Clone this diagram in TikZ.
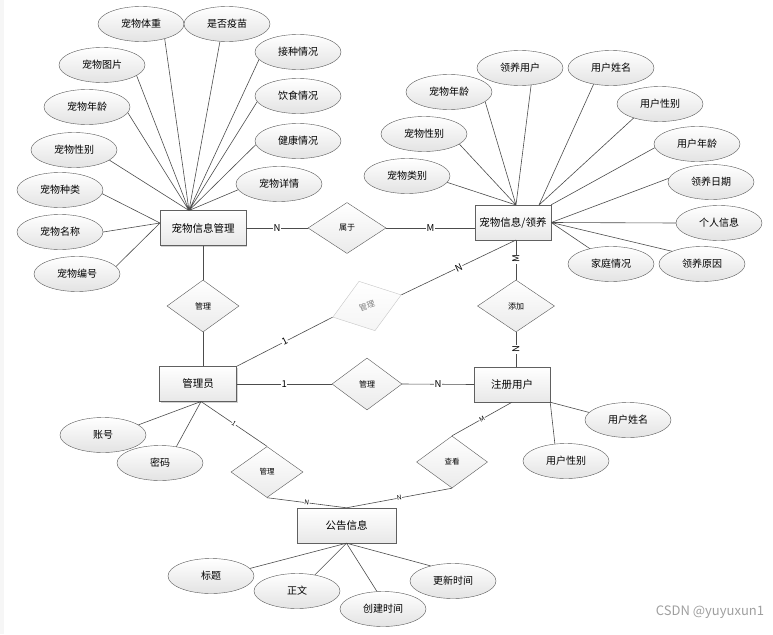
\documentclass[tikz,border=0pt]{standalone}
\usepackage{fontspec}
\setmainfont{Noto Sans CJK SC}
\usetikzlibrary{shapes.geometric,shadows}
\tikzstyle{entity} = [draw=gray!75!black, rectangle, minimum height = 35pt,
    minimum width = 76pt, inner sep = 0pt, top color = white, bottom color = gray!18,
    drop shadow = {shadow xshift = 1.2pt, shadow yshift = -1.2pt, fill = gray!70},
    font = \fontsize{10.5}{12}\selectfont]
\tikzstyle{attr} = [draw=gray!70!black, ellipse, minimum width = 86pt,
    minimum height = 35pt, inner sep = 0pt, top color = white, bottom color = gray!22,
    font = \fontsize{10}{12}\selectfont]
\tikzstyle{rel} = [draw=gray!70!black, diamond, minimum width = 72pt,
    minimum height = 52pt, inner sep = 0pt, top color = white, bottom color = gray!16,
    font = \fontsize{8}{9}\selectfont]
\tikzstyle{card} = [fill = white, inner sep = 0.6pt, font = \fontsize{9.5}{10}\selectfont]
\tikzstyle{tinycard} = [fill = white, inner sep = 0.4pt, font = \fontsize{6.5}{7}\selectfont]
\tikzstyle{conn} = [draw = gray!60!black, line width = 0.6pt]

\begin{document}
\begin{tikzpicture}[x=1pt, y=-1pt]
          \useasboundingbox (0,0) rectangle (773,634);
          \fill [gray!7] (0,0) rectangle (4,634);

          % Place the entities
          \node [entity, minimum width = 86pt] (pm) at (203,228) {宠物信息管理};
          \node [entity] (adopt) at (513,222.5) {宠物信息/领养};
          \node [entity, minimum width = 77pt] (admin) at (198,384) {管理员};
          \node [entity] (user) at (512,384.5) {注册用户};
          \node [entity, minimum width = 99pt] (notice) at (346.5,525.5) {公告信息};

          % Place the relations
          \node [rel, minimum width = 78pt, minimum height = 51pt] (belong) at (347,228) {属于};
          \node [rel] (mng1) at (203,306) {管理};
          \node [rel, rotate = 18, draw = gray!45, text = gray, bottom color = gray!8] (mng2) at (367,306) {管理};
          \node [rel, minimum width = 77pt] (add) at (516,306) {添加};
          \node [rel, minimum width = 70pt] (mng3) at (367,384) {管理};
          \node [rel, minimum height = 51pt, font = \fontsize{7.5}{9}\selectfont] (mng4) at (267,472) {管理};
          \node [rel, minimum width = 71pt, font = \fontsize{7.5}{9}\selectfont] (view) at (452,462) {查看};

          % Attributes of 宠物信息管理
          \node [attr] (a1) at (141,24) {宠物体重};
          \node [attr] (a2) at (227,24) {是否疫苗};
          \node [attr] (a3) at (298,52) {接种情况};
          \node [attr] (a4) at (102,65) {宠物图片};
          \node [attr] (a5) at (298,96) {饮食情况};
          \node [attr] (a6) at (87,107) {宠物年龄};
          \node [attr] (a7) at (298,141) {健康情况};
          \node [attr] (a8) at (74,150) {宠物性别};
          \node [attr] (a9) at (279,184) {宠物详情};
          \node [attr] (a10) at (60,190) {宠物种类};
          \node [attr] (a11) at (60,232) {宠物名称};
          \node [attr] (a12) at (77,274) {宠物编号};

          % Attributes of 宠物信息/领养
          \node [attr] (b1) at (520,68) {领养用户};
          \node [attr] (b2) at (449,92) {宠物年龄};
          \node [attr] (b3) at (424,134) {宠物性别};
          \node [attr] (b4) at (407,176) {宠物类别};
          \node [attr] (b5) at (611,68) {用户姓名};
          \node [attr] (b6) at (660,104) {用户性别};
          \node [attr] (b7) at (697,144) {用户年龄};
          \node [attr] (b8) at (711,182) {领养日期};
          \node [attr] (b9) at (719,223) {个人信息};
          \node [attr] (b10) at (611,264) {家庭情况};
          \node [attr] (b11) at (702,264) {领养原因};

          % Attributes of 注册用户, 管理员, 公告信息
          \node [attr] (c1) at (628,420) {用户姓名};
          \node [attr] (c2) at (566,461) {用户性别};
          \node [attr] (d1) at (103,435) {账号};
          \node [attr] (d2) at (160,463) {密码};
          \node [attr] (e1) at (211,576) {标题};
          \node [attr] (e2) at (297,591) {正文};
          \node [attr] (e3) at (383,609) {创建时间};
          \node [attr] (e4) at (453,581) {更新时间};

          \node [text = gray!75, font = \fontsize{13}{14}\selectfont] (mark) at (710,612) {CSDN @yuyuxun1};

          % Meeting points
          \coordinate (pmtop) at (189,210.5);
          \coordinate (pmleft) at (160,223);
          \coordinate (adtop) at (516,205);
          \coordinate (adtop2) at (539,205);
          \coordinate (adsouth) at (516,240);
          \coordinate (adminbot) at (201,401.5);

          % Attribute lines
          \draw [conn] (a1.328) -- (pmtop) (a2.248) -- (pmtop) (a3.191) -- (pmtop)
              (a4.343) -- (pmtop) (a5.188) -- (pmtop) (a6.352) -- (pmtop)
              (a7.185) -- (pmtop) (a8.344) -- (pmtop) (a9.188) -- (pmtop);
          \draw [conn] (a10.355) -- (pmleft) (a11.east) -- (pmleft) (a12.11) -- (pmleft);
          \draw [conn] (b1.303) -- (adtop) (b2.345) -- (adtop) (b3.344) -- (adtop) (b4.351) -- (adtop);
          \draw [conn] (b5.223) -- (adtop2) (b6.208) -- (adtop2) (b7.185) -- (adopt.north east);
          \draw [conn] (b8.175) -- (adopt.east) (b9.west) -- (adopt.east)
              (b10.144) -- (adopt.east) (b11.157) -- (adopt.east);
          \draw [conn] (c1.169) -- (user.south east) (c2.123) -- (user.south east);
          \draw [conn] (d1.16) -- (adminbot) (d2.45) -- (adminbot);
          \draw [conn] (e1.11) -- (notice.south) (e2.42) -- (notice.south)
              (e3.109) -- (notice.south) (e4.146) -- (notice.south);

          % Connections
          \draw [conn] (pm.east) -- node [card] {N} (belong.west);
          \draw [conn] (belong.east) -- node [card] {M} (belong.east -| adopt.west);
          \draw [conn] (pm.south) -- (mng1.north);
          \draw [conn] (mng1.south) -- (mng1.south |- admin.north);
          \draw [conn] (admin.north east) -- node [card, sloped] {1} (mng2.west);
          \draw [conn] (mng2.east) -- node [card, sloped] {N} (adsouth);
          \draw [conn] (adsouth) -- node [card, rotate = 90, pos = 0.48] {M} (add.north);
          \draw [conn] (add.south) -- node [card, rotate = 90] {N} (add.south |- user.north);
          \draw [conn] (admin.east) -- node [card] {1} (mng3.west);
          \draw [conn] (mng3.east) -- node [card] {N} (user.west);
          \draw [conn] (adminbot) -- node [tinycard, sloped] {1} (mng4.north);
          \draw [conn] (mng4.south) -- node [tinycard, sloped] {N} (notice.north);
          \draw [conn] (user.south) -- node [tinycard, sloped] {M} (view.north);
          \draw [conn] (view.south) -- node [tinycard, sloped] {N} (notice.north);
      \end{tikzpicture}
\end{document}
